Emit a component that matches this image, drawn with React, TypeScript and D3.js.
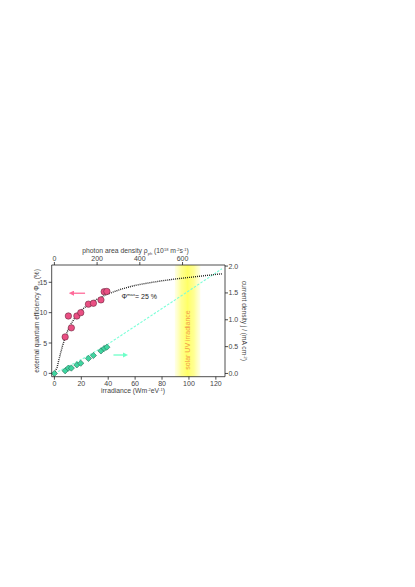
import React from "react";
import * as d3 from "d3";

// ---- data ----
const irradiance = [0, 8, 10.4, 12.6, 16.7, 19.6, 25.3, 29, 34.6, 37, 39];
const eqeValues = [0, 6.0, 9.45, 7.5, 9.45, 10.0, 11.4, 11.55, 12.1, 13.45, 13.5];
const currentValues = [0, 0.05, 0.1, 0.1, 0.16, 0.19, 0.28, 0.335, 0.42, 0.465, 0.49];

const fitX = [0, 2, 4, 6, 8, 10, 12, 15, 20, 25, 30, 35, 40, 50, 60, 70, 80, 90, 100, 110, 120, 125];
const fitEqe = [0, 1.0, 2.8, 4.5, 5.9, 7.1, 8.0, 9.1, 10.4, 11.3, 12.0, 12.6, 13.1, 13.9, 14.5, 14.9, 15.25, 15.55, 15.8, 16.05, 16.3, 16.4];

const lineX = [0, 20, 40, 60, 80, 100, 124.5];
const lineJ = [0, 0.26, 0.55, 0.88, 1.21, 1.54, 1.95];

const xTicks = [0, 20, 40, 60, 80, 100, 120];
const yLTicks = [0, 5, 10, 15];
const yRTicks = [0, 0.5, 1.0, 1.5, 2.0];
const topTicks = [0, 200, 400, 600];
const photonPerIrradiance = 6.3;
const solarBand = [89.5, 108.5];

const W = 415;
const H = 587;
const L = 51.7, R = 225, T = 265, B = 376.7;
const FONT = "'Liberation Sans', Arial, Helvetica, sans-serif";

export default function App() {
  const x = d3.scaleLinear().domain([-2, 126.8]).range([L, R]);
  const xTop = d3.scaleLinear().domain([-2 * photonPerIrradiance, 126.8 * photonPerIrradiance]).range([L, R]);
  const yL = d3.scaleLinear().domain([-0.55, 17.85]).range([B, T]);
  const yR = d3.scaleLinear().domain([-0.06, 2.02]).range([B, T]);

  const fitPath = d3.line<number>().x((d) => x(d)).y((_, i) => yL(fitEqe[i]))(fitX) || "";
  const linePath = d3.line<number>().x((d) => x(d)).y((_, i) => yR(lineJ[i]))(lineX) || "";

  const tickColor = "#222";
  const labelColor = "#444";
  const fs = 7;

  const diamond = (cx: number, cy: number, r: number) =>
    `M${cx},${cy - r}L${cx + r},${cy}L${cx},${cy + r}L${cx - r},${cy}Z`;

  const arrowPink = { x1: x(22.8), x2: x(10.4), y: yL(13.2) };
  const arrowGreen = { x1: x(43.9), x2: x(55), y: yR(0.344) };

  return (
    <svg width={W} height={H} style={{ position: "absolute", left: 0, top: 0, background: "#fff" }} fontFamily={FONT}>
      <defs>
        <linearGradient id="band" x1="0" x2="1" y1="0" y2="0">
          <stop offset="0" stopColor="#ffffa0" stopOpacity="0.25" />
          <stop offset="0.25" stopColor="#ffff80" stopOpacity="0.85" />
          <stop offset="0.5" stopColor="#ffff66" stopOpacity="1" />
          <stop offset="0.75" stopColor="#ffff80" stopOpacity="0.85" />
          <stop offset="1" stopColor="#ffffa0" stopOpacity="0.25" />
        </linearGradient>
        <marker id="headPink" viewBox="0 0 10 10" refX="5" refY="5" markerWidth="4" markerHeight="4" orient="auto">
          <path d="M0,0L10,5L0,10Z" fill="#ff6b9a" />
        </marker>
        <marker id="headGreen" viewBox="0 0 10 10" refX="5" refY="5" markerWidth="4" markerHeight="4" orient="auto">
          <path d="M0,0L10,5L0,10Z" fill="#6dffc8" />
        </marker>
      </defs>

      {/* solar band */}
      <rect x={x(solarBand[0])} y={T} width={x(solarBand[1]) - x(solarBand[0])} height={B - T} fill="url(#band)" />
      <text
        transform={`translate(${x(99.3) + 2.5},340) rotate(-90)`}
        textAnchor="middle"
        fontSize={7}
        fill="#f39a4a"
      >
        solar UV irradiance
      </text>

      {/* fits */}
      <path d={linePath} fill="none" stroke="#7dffd8" strokeWidth={1.1} strokeDasharray="2.5,1.5" />
      <path d={fitPath} fill="none" stroke="#111" strokeWidth={1.4} strokeDasharray="0.9,1.1" />

      {/* data points */}
      {irradiance.map((v, i) => (
        <path key={"d" + i} d={diamond(x(v), yR(currentValues[i]), 3.1)} fill="#3ed6a0" stroke="#2a6a55" strokeWidth={0.6} />
      ))}
      {irradiance.slice(1).map((v, i) => (
        <circle key={"c" + i} cx={x(v)} cy={yL(eqeValues[i + 1])} r={3.2} fill="#ea4f83" stroke="#6a2a40" strokeWidth={0.6} />
      ))}

      {/* arrows */}
      <line x1={arrowPink.x1} x2={arrowPink.x2 + 3} y1={arrowPink.y} y2={arrowPink.y} stroke="#ff6b9a" strokeWidth={1.3} markerEnd="url(#headPink)" />
      <line x1={arrowGreen.x1} x2={arrowGreen.x2 - 3} y1={arrowGreen.y} y2={arrowGreen.y} stroke="#6dffc8" strokeWidth={1.3} markerEnd="url(#headGreen)" />

      {/* annotation */}
      <text x={121.5} y={298.5} fontSize={7} fill="#222">
        Φ<tspan fontSize={4.2} dy={-3}>max</tspan>
        <tspan dy={3}>= 25 %</tspan>
      </text>

      {/* frame axes */}
      <line x1={L} x2={L} y1={T} y2={B} stroke={tickColor} strokeWidth={0.8} />
      <line x1={R} x2={R} y1={T} y2={B} stroke={tickColor} strokeWidth={0.8} />
      <line x1={L} x2={R} y1={B} y2={B} stroke={tickColor} strokeWidth={0.8} />
      <line x1={L} x2={R} y1={T} y2={T} stroke={tickColor} strokeWidth={0.8} />

      {/* bottom axis */}
      {xTicks.map((t) => (
        <g key={"xb" + t}>
          <line x1={x(t)} x2={x(t)} y1={B} y2={B + 3} stroke={tickColor} strokeWidth={0.8} />
          <text x={x(t)} y={B + 9.5} fontSize={fs} textAnchor="middle" fill={labelColor}>{t}</text>
        </g>
      ))}
      <text x={133} y={393} fontSize={6.8} textAnchor="middle" fill={labelColor}>
        irradiance (Wm<tspan fontSize={4} dy={-2.5}>-2</tspan><tspan dy={2.5}>eV</tspan><tspan fontSize={4} dy={-2.5}>-1</tspan><tspan dy={2.5}>)</tspan>
      </text>

      {/* top axis */}
      {topTicks.map((t) => (
        <g key={"xt" + t}>
          <line x1={xTop(t)} x2={xTop(t)} y1={T} y2={T - 3} stroke={tickColor} strokeWidth={0.8} />
          <text x={xTop(t)} y={T - 4.5} fontSize={fs} textAnchor="middle" fill={labelColor}>{t}</text>
        </g>
      ))}
      <text x={135.5} y={253} fontSize={6.8} textAnchor="middle" fill={labelColor}>
        photon area density ρ<tspan fontSize={4} dy={1.5}>ph</tspan><tspan dy={-1.5}> (10</tspan><tspan fontSize={4} dy={-2.5}>18</tspan><tspan dy={2.5}> m</tspan><tspan fontSize={4} dy={-2.5}>-2</tspan><tspan dy={2.5}>s</tspan><tspan fontSize={4} dy={-2.5}>-1</tspan><tspan dy={2.5}>)</tspan>
      </text>

      {/* left axis */}
      {yLTicks.map((t) => (
        <g key={"yl" + t}>
          <line x1={L} x2={L - 3} y1={yL(t)} y2={yL(t)} stroke={tickColor} strokeWidth={0.8} />
          <text x={L - 4.5} y={yL(t) + 2.5} fontSize={fs} textAnchor="end" fill={labelColor}>{t}</text>
        </g>
      ))}
      <text transform={`translate(38.5,${(T + B) / 2}) rotate(-90)`} fontSize={6.6} textAnchor="middle" fill={labelColor}>
        external quantum efficiency Φ<tspan fontSize={4} dy={1.5}>ex</tspan><tspan dy={-1.5}> (%)</tspan>
      </text>

      {/* right axis */}
      {yRTicks.map((t) => (
        <g key={"yr" + t}>
          <line x1={R} x2={R + 3} y1={yR(t)} y2={yR(t)} stroke={tickColor} strokeWidth={0.8} />
          <text x={R + 3.5} y={yR(t) + 2.5} fontSize={fs} textAnchor="start" fill={labelColor}>{t.toFixed(1)}</text>
        </g>
      ))}
      <text transform={`translate(241.5,${(T + B) / 2}) rotate(90)`} fontSize={6.6} textAnchor="middle" fill={labelColor}>
        current density j / (mA cm<tspan fontSize={4} dy={-2.5}>-2</tspan><tspan dy={2.5}>)</tspan>
      </text>
    </svg>
  );
}
